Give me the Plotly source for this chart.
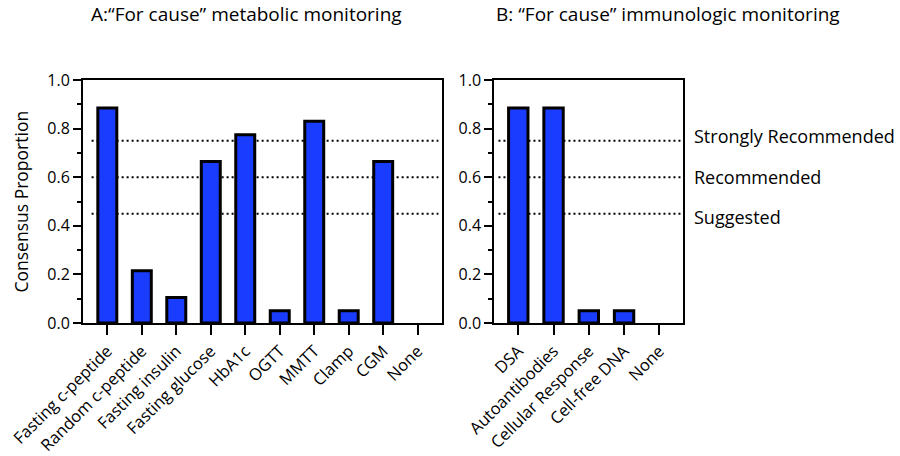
import plotly.graph_objects as go

# Data
metabolic_categories = ["Fasting c-peptide", "Random c-peptide", "Fasting insulin", "Fasting glucose",
                        "HbA1c", "OGTT", "MMTT", "Clamp", "CGM", "None"]
metabolic_values = [0.885, 0.215, 0.105, 0.665, 0.775, 0.05, 0.83, 0.05, 0.665, 0.0]

immuno_categories = ["DSA", "Autoantibodies", "Cellular Response", "Cell-free DNA", "None"]
immuno_values = [0.885, 0.885, 0.05, 0.05, 0.0]

threshold_values = [0.75, 0.60, 0.45]
threshold_labels = ["Strongly Recommended", "Recommended", "Suggested"]

panel_titles = ["A:\u201cFor cause\u201d metabolic monitoring", "B: \u201cFor cause\u201d immunologic monitoring"]
y_title = "Consensus Proportion"
y_ticks = [0.0, 0.2, 0.4, 0.6, 0.8, 1.0]
y_ticklabels = ["0.0", "0.2", "0.4", "0.6", "0.8", "1.0"]

FONT = "Open Sans"
BLUE = "#1a3cff"
W, H = 900, 456


def outline_widths(vals):
    return [3 if v > 0 else 0 for v in vals]


fig = go.Figure()
fig.add_trace(go.Bar(x=list(range(len(metabolic_categories))), y=metabolic_values,
                     marker=dict(color=BLUE, line=dict(color="black", width=outline_widths(metabolic_values))),
                     width=0.55, xaxis="x", yaxis="y", showlegend=False))
fig.add_trace(go.Bar(x=list(range(len(immuno_categories))), y=immuno_values,
                     marker=dict(color=BLUE, line=dict(color="black", width=outline_widths(immuno_values))),
                     width=0.55, xaxis="x2", yaxis="y2", showlegend=False))

# plot areas in pixels
A = (83, 442)
B = (494.3, 683.3)
top, bottom = 80, 323
ydom = [1 - bottom / H, 1 - top / H]

common_x = dict(showline=True, linecolor="black", linewidth=2, mirror=True, automargin=False,
                ticks="outside", ticklen=10, tickwidth=2, tickcolor="black",
                tickangle=-45, tickfont=dict(family=FONT, size=16.5, color="black"),
                showgrid=False, zeroline=False)
common_y = dict(showline=True, linecolor="black", linewidth=2, mirror=True, automargin=False,
                range=[0, 1.0], tickvals=y_ticks, ticktext=y_ticklabels,
                ticks="outside", ticklen=8, tickwidth=2, tickcolor="black",
                minor=dict(ticks="outside", ticklen=4, tickwidth=2, tickcolor="black", dtick=0.1, tick0=0),
                tickfont=dict(family=FONT, size=16, color="black"),
                showgrid=False, zeroline=False)

fig.update_layout(
    width=W, height=H, margin=dict(l=0, r=0, t=0, b=0),
    paper_bgcolor="white", plot_bgcolor="white",
    xaxis=dict(domain=[A[0] / W, A[1] / W], anchor="y", range=[-0.705, 9.705],
               tickvals=list(range(len(metabolic_categories))), ticktext=metabolic_categories, **common_x),
    yaxis=dict(domain=ydom, anchor="x", **common_y),
    xaxis2=dict(domain=[B[0] / W, B[1] / W], anchor="y2", range=[-0.68, 4.68],
                tickvals=list(range(len(immuno_categories))), ticktext=immuno_categories, **common_x),
    yaxis2=dict(domain=ydom, anchor="x2", **common_y),
)

for v in threshold_values:
    fig.add_shape(type="line", xref="x domain", yref="y", x0=0.024, x1=0.99, y0=v, y1=v,
                  line=dict(color="black", width=2, dash="2px,3px"), layer="below")
    fig.add_shape(type="line", xref="x2 domain", yref="y2", x0=0.022, x1=0.99, y0=v, y1=v,
                  line=dict(color="black", width=2, dash="2px,3px"), layer="below")

label_offsets = [0.02, 0.0, -0.012]
for v, lab, off in zip(threshold_values, threshold_labels, label_offsets):
    fig.add_annotation(text=lab, xref="paper", yref="y2", x=691.5 / W, y=v + off,
                       xanchor="left", yanchor="middle", showarrow=False,
                       font=dict(family=FONT, size=18, color="black"))

for t, cx in zip(panel_titles, [246.7, 668.3]):
    fig.add_annotation(text=t, xref="paper", yref="paper", x=cx / W, y=1 - 14 / H,
                       xanchor="center", yanchor="middle", showarrow=False,
                       font=dict(family=FONT, size=19, color="black"))

fig.add_annotation(text=y_title, xref="paper", yref="paper", x=20 / W, y=1 - 201.5 / H,
                   xanchor="center", yanchor="middle", textangle=-90, showarrow=False,
                   font=dict(family=FONT, size=17.5, color="black"))

fig.write_html("out.html", config={"displayModeBar": False},
               post_script="document.body.style.margin='0';")
